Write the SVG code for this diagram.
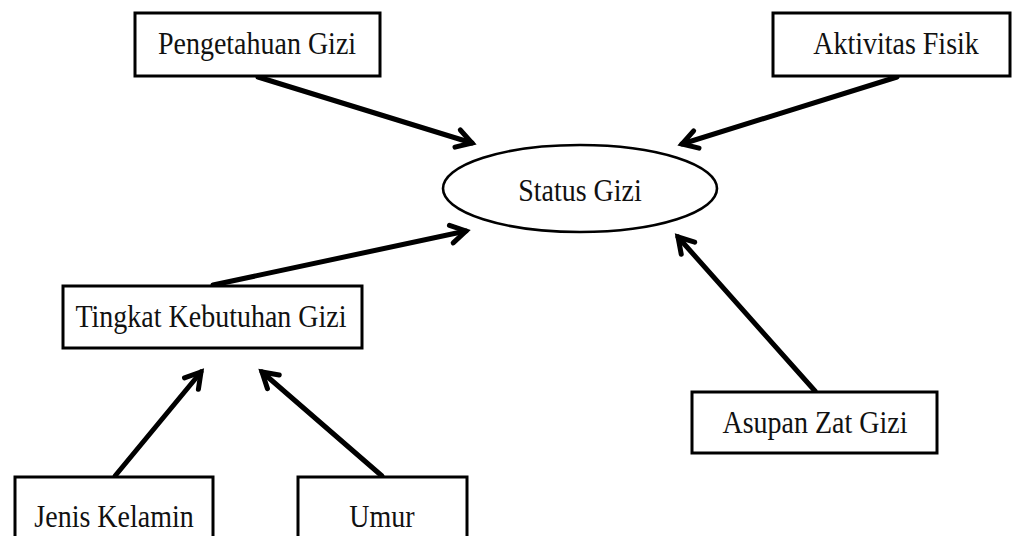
<svg xmlns="http://www.w3.org/2000/svg" width="1013" height="536" viewBox="0 0 1013 536">
<style>
.box{fill:#fff;stroke:#000;stroke-width:3}
.ell{fill:#fff;stroke:#000;stroke-width:2.6}
.lbl{font-family:"Liberation Serif","Times New Roman",serif;font-size:28px;fill:#111;text-anchor:middle}
.conn{stroke:#000;stroke-width:5;fill:none;stroke-linecap:round}
</style>
<defs>
<marker id="arr" markerUnits="userSpaceOnUse" markerWidth="40" markerHeight="40" refX="0" refY="0" viewBox="-20 -20 40 40" orient="auto">
<path d="M-15,-9 L0,0 L-15,9" fill="none" stroke="#000" stroke-width="5" stroke-linecap="round" stroke-linejoin="miter"/>
</marker>
</defs>
<g id="connectors">
<line class="conn" x1="258" y1="77" x2="472" y2="143" marker-end="url(#arr)"/>
<line class="conn" x1="897" y1="77" x2="682" y2="144" marker-end="url(#arr)"/>
<line class="conn" x1="213" y1="285" x2="466" y2="231" marker-end="url(#arr)"/>
<line class="conn" x1="815" y1="391" x2="678" y2="237" marker-end="url(#arr)"/>
<line class="conn" x1="115" y1="476" x2="201" y2="372" marker-end="url(#arr)"/>
<line class="conn" x1="382" y1="476" x2="262" y2="372" marker-end="url(#arr)"/>
</g>
<g id="node-pengetahuan">
<rect class="box" x="135" y="13" width="245" height="63"/>
<text class="lbl" transform="translate(257,54) scale(1,1.15)">Pengetahuan Gizi</text>
</g>
<g id="node-aktivitas">
<rect class="box" x="773" y="13" width="237" height="63"/>
<text class="lbl" transform="translate(896,54) scale(1,1.15)">Aktivitas Fisik</text>
</g>
<g id="node-status">
<ellipse class="ell" cx="580" cy="188.5" rx="137" ry="43.5"/>
<text class="lbl" transform="translate(580,201) scale(1,1.15)">Status Gizi</text>
</g>
<g id="node-tingkat">
<rect class="box" x="63" y="286" width="299" height="62"/>
<text class="lbl" transform="translate(211,327) scale(1,1.15)">Tingkat Kebutuhan Gizi</text>
</g>
<g id="node-asupan">
<rect class="box" x="692" y="392" width="245" height="61"/>
<text class="lbl" transform="translate(815,433) scale(1,1.15)">Asupan Zat Gizi</text>
</g>
<g id="node-jenis">
<rect class="box" x="15" y="477" width="198" height="70"/>
<text class="lbl" transform="translate(114,527) scale(1,1.15)">Jenis Kelamin</text>
</g>
<g id="node-umur">
<rect class="box" x="298" y="477" width="169" height="70"/>
<text class="lbl" transform="translate(382,527) scale(1,1.15)">Umur</text>
</g>
</svg>
